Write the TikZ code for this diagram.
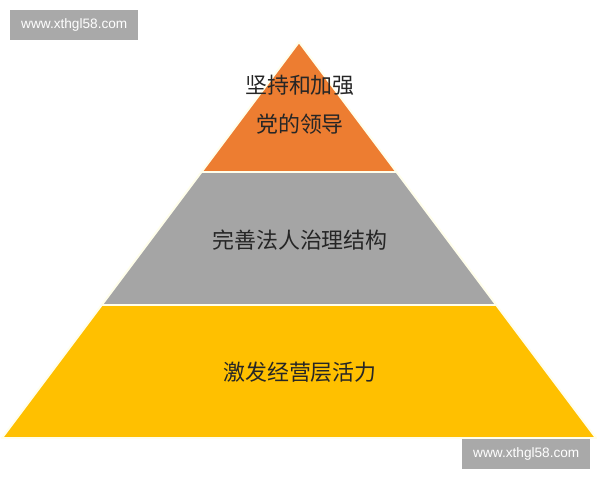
\documentclass[tikz,border=0pt]{standalone}
\usepackage{fontspec}
\usepackage{tikz}
\newfontfamily\cjk{Noto Sans CJK SC}
\newfontfamily\wmfont{Liberation Sans}
\definecolor{tierorange}{HTML}{ED7D31}
\definecolor{tiergray}{HTML}{A5A5A5}
\definecolor{tiergold}{HTML}{FFC000}
\definecolor{markgray}{HTML}{A9A9A9}
\usetikzlibrary{calc}
\tikzset{
  tier/.style={draw=white!92!yellow, line width=1.4pt, line join=round},
  label/.style={font=\cjk\fontsize{15.6pt}{25pt}\selectfont, text=black!85, align=center},
  watermark/.style={fill=markgray, text=white, font=\wmfont\fontsize{9.7pt}{11pt}\selectfont,
    inner sep=0pt, anchor=north west}
}

\begin{document}
\begin{tikzpicture}[x=0.025cm, y=-0.025cm]
            \useasboundingbox (0,0) rectangle (600,480);
            \coordinate (A) at (299,42);
            \coordinate (B) at (201.5,172);
            \coordinate (C) at (396.5,172);
            \coordinate (D) at (101.75,305);
            \coordinate (E) at (496.25,305);
            \coordinate (F) at (2,438);
            \coordinate (G) at (596,438);
            \filldraw[tier, fill=tiergold] (D) -- (E) -- (G) -- (F) -- cycle;
            \filldraw[tier, fill=tiergray] (B) -- (C) -- (E) -- (D) -- cycle;
            \filldraw[tier, fill=tierorange] (A) -- (C) -- (B) -- cycle;
            \node[label] (top) at (300,105) {坚持和加强\\[3pt]党的领导};
            \node[label] (mid) at (300,240) {完善法人治理结构};
            \node[label] (low) at (300,372) {激发经营层活力};
            \node[watermark, minimum width=128*0.025cm, minimum height=30*0.025cm] (wmtop) at (10,10) {www.xthgl58.com};
            \node[watermark, minimum width=128*0.025cm, minimum height=30*0.025cm] (wmlow) at (462,439) {www.xthgl58.com};
        \end{tikzpicture}
\end{document}
